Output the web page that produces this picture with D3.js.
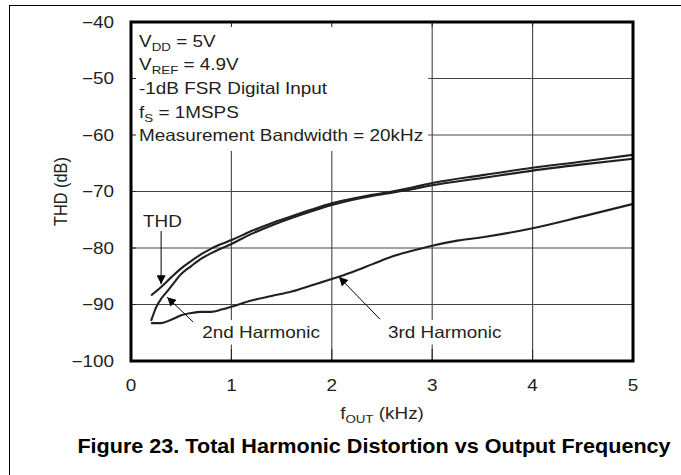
<!DOCTYPE html>
<html>
<head>
<meta charset="utf-8">
<script src="https://cdn.jsdelivr.net/npm/d3@7"></script>
<style>
  body { margin: 0; background: #fff; }
  svg { display: block; font-family: "Liberation Sans", Arial, Helvetica, sans-serif; }
</style>
</head>
<body>
<svg id="chart" width="681" height="475"></svg>
<script>
// values (kHz, dB)
var thdFreq = [0.2, 0.3, 0.4, 0.5, 0.6, 0.7, 0.8, 0.9, 1.0, 1.2, 1.4, 1.6, 1.8, 2.0, 2.2, 2.4, 2.6, 2.8, 3.0, 3.5, 4.0, 4.5, 5.0];
var thdDb   = [-88.4, -86.9, -85.2, -83.6, -82.3, -81.1, -80.1, -79.3, -78.6, -77.0, -75.6, -74.4, -73.2, -72.1, -71.3, -70.6, -70.0, -69.3, -68.5, -67.1, -65.8, -64.7, -63.5];

var secondFreq = [0.2, 0.25, 0.3, 0.35, 0.4, 0.5, 0.6, 0.7, 0.8, 0.9, 1.0, 1.2, 1.4, 1.6, 1.8, 2.0, 2.2, 2.4, 2.6, 2.8, 3.0, 3.5, 4.0, 4.5, 5.0];
var secondDb   = [-92.9, -90.5, -89.0, -87.9, -86.8, -84.6, -83.2, -81.9, -80.9, -80.1, -79.3, -77.5, -76.0, -74.7, -73.5, -72.4, -71.5, -70.8, -70.2, -69.6, -68.9, -67.6, -66.3, -65.2, -64.2];

var thirdFreq = [0.2, 0.3, 0.4, 0.5, 0.6, 0.7, 0.8, 0.9, 1.0, 1.2, 1.4, 1.6, 1.8, 2.0, 2.2, 2.4, 2.6, 2.8, 3.0, 3.25, 3.5, 4.0, 4.5, 5.0];
var thirdDb   = [-93.3, -93.3, -92.7, -91.9, -91.5, -91.3, -91.3, -90.9, -90.4, -89.3, -88.5, -87.7, -86.6, -85.5, -84.3, -82.9, -81.5, -80.5, -79.6, -78.7, -78.1, -76.5, -74.4, -72.2];

var xTicks = [0, 1, 2, 3, 4, 5];
var yTicks = [-40, -50, -60, -70, -80, -90, -100];

var conditions = [
  [["V", ""], ["DD", "sub"], [" = 5V", ""]],
  [["V", ""], ["REF", "sub"], [" = 4.9V", ""]],
  [["-1dB FSR Digital Input", ""]],
  [["f", ""], ["S", "sub"], [" = 1MSPS", ""]],
  [["Measurement Bandwidth = 20kHz", ""]]
];

var svg = d3.select("#chart");

var x = d3.scaleLinear().domain([0, 5]).range([131, 633]);
var y = d3.scaleLinear().domain([-100, -40]).range([361, 22]);

// the plot art is a little wider than tall, so text is stretched sideways
var SX = 1.16;
var FS = 16.3;
var ink = "#231f20";

var minus = function(v) { return String(v).replace("-", "\u2212"); };

function stext(parent, px, py, size) {
  return parent.append("text")
    .attr("transform", "translate(" + px + "," + py + ") scale(" + SX + ",1)")
    .attr("font-size", size || FS)
    .attr("fill", ink);
}

// grid
var grid = svg.append("g");
grid.selectAll("line.vx")
  .data(xTicks.slice(1, -1))
  .enter().append("line")
  .attr("x1", d => x(d)).attr("x2", d => x(d))
  .attr("y1", y(-40)).attr("y2", y(-100))
  .attr("stroke", "#555").attr("stroke-width", 1.2);
grid.selectAll("line.hy")
  .data(yTicks.slice(1, -1))
  .enter().append("line")
  .attr("x1", x(0)).attr("x2", x(5))
  .attr("y1", d => y(d)).attr("y2", d => y(d))
  .attr("stroke", "#444").attr("stroke-width", 1.2);

// layer for white boxes behind the text
var boxes = svg.append("g");

// short ticks on the inside of the frame
var ticks = svg.append("g").attr("stroke", "#222").attr("stroke-width", 1);
ticks.selectAll("line.lt").data(yTicks).enter().append("line")
  .attr("x1", x(0)).attr("x2", x(0) + 5)
  .attr("y1", d => y(d)).attr("y2", d => y(d));
ticks.selectAll("line.tt").data(xTicks).enter().append("line")
  .attr("x1", d => x(d)).attr("x2", d => x(d))
  .attr("y1", y(-40)).attr("y2", y(-40) + 5);
ticks.selectAll("line.bt").data(xTicks).enter().append("line")
  .attr("x1", d => x(d)).attr("x2", d => x(d))
  .attr("y1", y(-100)).attr("y2", y(-100) - 12);

// curves
var line = d3.line()
  .x(d => x(d[0]))
  .y(d => y(d[1]))
  .curve(d3.curveMonotoneX);

var series = [
  d3.zip(thdFreq, thdDb),
  d3.zip(secondFreq, secondDb),
  d3.zip(thirdFreq, thirdDb)
];
svg.append("g").selectAll("path")
  .data(series)
  .enter().append("path")
  .attr("d", line)
  .attr("fill", "none")
  .attr("stroke", ink)
  .attr("stroke-width", 2.1)
  .attr("stroke-linejoin", "round");

// frame
svg.append("rect")
  .attr("x", x(0)).attr("y", y(-40))
  .attr("width", x(5) - x(0)).attr("height", y(-100) - y(-40))
  .attr("fill", "none").attr("stroke", "#000").attr("stroke-width", 3);

// axis labels
var yl = svg.append("g");
yTicks.forEach(function(d) {
  stext(yl, 114, y(d)).attr("dy", "0.36em").attr("text-anchor", "end").text(minus(d));
});
var xl = svg.append("g");
xTicks.forEach(function(d) {
  stext(xl, x(d), y(-100) + 30).attr("text-anchor", "middle").text(d);
});

var xt = stext(svg, (x(0) + x(5)) / 2, 419).attr("text-anchor", "middle");
xt.append("tspan").text("f");
xt.append("tspan").attr("font-size", 11.5).attr("dy", 4).text("OUT");
xt.append("tspan").attr("dy", -4).text(" (kHz)");

svg.append("text")
  .attr("transform", "translate(67," + y(-70) + ") scale(" + SX + ",1) rotate(-90)")
  .attr("text-anchor", "middle").attr("font-size", FS).attr("fill", ink)
  .text("THD (dB)");

// conditions block
var cond = svg.append("g");
conditions.forEach(function(parts, i) {
  var t = stext(cond, x(0.08), y(-44.4) + i * 23.6);
  parts.forEach(function(p, j) {
    if (p[1] == "sub") {
      t.append("tspan").attr("font-size", 11.5).attr("dy", 4).text(p[0]);
    } else {
      t.append("tspan").attr("dy", j > 0 ? -4 : 0).text(p[0]);
    }
  });
});
var cb = cond.node().getBBox();
boxes.append("rect")
  .attr("x", x(0) + 1).attr("y", y(-40) + 1)
  .attr("width", cb.x + cb.width + 4 - x(0)).attr("height", cb.y + cb.height + 5 - y(-40))
  .attr("fill", "#fff");

// series labels with arrows
svg.append("defs").append("marker")
  .attr("id", "head").attr("viewBox", "0 0 10 10")
  .attr("refX", 10).attr("refY", 5)
  .attr("markerWidth", 9).attr("markerHeight", 9)
  .attr("markerUnits", "userSpaceOnUse")
  .attr("orient", "auto")
  .append("path").attr("d", "M0,0L10,5L0,10Z").attr("fill", "#000");

var notes = [
  { text: "THD", tx: 0.12, ty: -76.3, from: [0.3, -77.0], to: [0.3, -86.4], box: false },
  { text: "2nd Harmonic", tx: 0.71, ty: -95.9, from: [0.62, -93.1], to: [0.36, -88.7], box: true },
  { text: "3rd Harmonic", tx: 2.56, ty: -95.9, from: [2.48, -92.6], to: [2.07, -85.1], box: true }
];
notes.forEach(function(n) {
  var g = svg.append("g");
  stext(g, x(n.tx), y(n.ty)).text(n.text);
  if (n.box) {
    var b = g.node().getBBox();
    boxes.append("rect")
      .attr("x", b.x - 4).attr("y", b.y - 3)
      .attr("width", b.width + 8).attr("height", b.height + 6)
      .attr("fill", "#fff");
  }
  svg.append("line")
    .attr("x1", x(n.from[0])).attr("y1", y(n.from[1]))
    .attr("x2", x(n.to[0])).attr("y2", y(n.to[1]))
    .attr("stroke", "#000").attr("stroke-width", 1)
    .attr("marker-end", "url(#head)");
});

// caption
svg.append("text")
  .attr("transform", "translate(374,453) scale(1.08,1)")
  .attr("text-anchor", "middle").attr("font-size", 20).attr("font-weight", "bold")
  .attr("fill", "#000")
  .text("Figure 23. Total Harmonic Distortion vs Output Frequency");

// page rules
svg.append("line").attr("x1", 9).attr("x2", 681).attr("y1", 5.5).attr("y2", 5.5)
  .attr("stroke", "#000").attr("stroke-width", 1);
svg.append("line").attr("x1", 9.5).attr("x2", 9.5).attr("y1", 5).attr("y2", 475)
  .attr("stroke", "#000").attr("stroke-width", 1);
</script>
</body>
</html>
